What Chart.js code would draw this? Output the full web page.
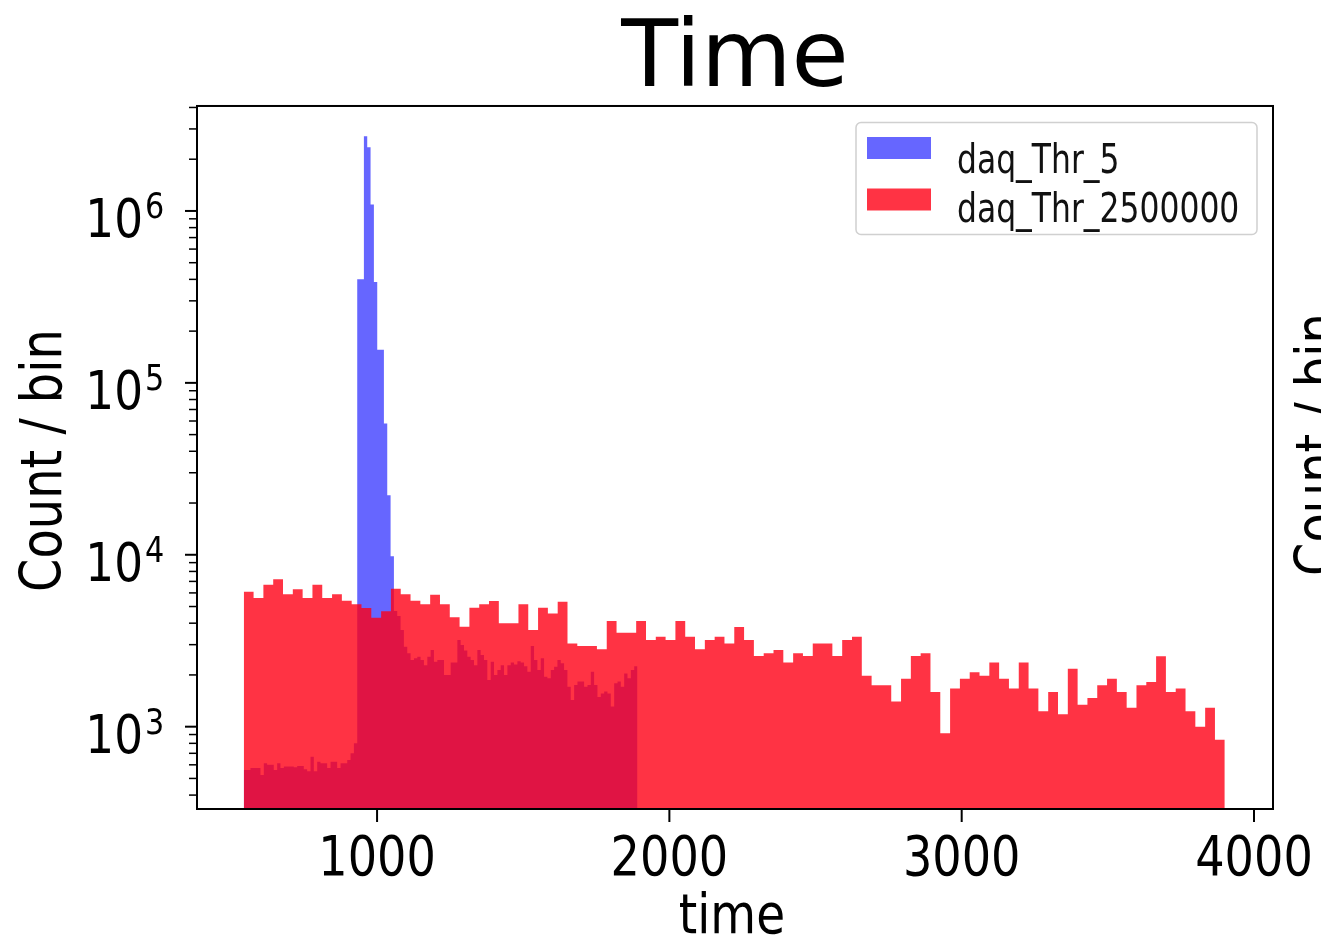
<!DOCTYPE html>
<html>
<head>
<meta charset="utf-8">
<script src="https://cdn.jsdelivr.net/npm/chart.js@4.4.0/dist/chart.umd.min.js"></script>
<style>
  html, body { margin: 0; padding: 0; background: #fff; }
</style>
</head>
<body>
<canvas id="timeChart" width="1321" height="939"></canvas>
<script>
// Histogram data (counts per bin)
const seriesLabels = ['daq_Thr_5', 'daq_Thr_2500000'];
const histStart = 544;          // left edge of the first bin (both series)
const blueBinWidth = 11.415;    // daq_Thr_5 bins
const redBinWidth = 33.56;      // daq_Thr_2500000 bins

const blueCounts = [
    560, 560, 575, 575, 575, 524, 612, 600, 600, 560,
    612, 575, 586, 586, 586, 580, 590, 590, 565, 550,
    669, 550, 625, 612, 612, 575, 625, 625, 575, 612,
    612, 640, 700, 800,
    401000, 401000, 2720000, 2350000, 1090000, 386000, 156000, 156000, 58000, 22200, 9820,
    4710, 4400, 3650, 2920, 2670, 2440, 2500, 2550, 2440, 2280, 2550, 2790,
    2390, 2440, 2440, 2000, 2000, 2360, 2360, 3190, 2990, 2770,
    2550, 2440, 2280, 2790, 2610, 2440, 1870, 2390, 2000, 2140,
    2280, 2000, 2280,
    2360, 2300, 2400, 2360, 2250, 2090, 2950, 2440, 2140, 2500,
    1950, 1910, 2140, 2230, 2440, 2340, 2140, 1710, 1430, 1750,
    1830, 1830, 1710, 1750, 2090, 1750, 1490, 1560, 1600, 1560,
    1310, 1790, 1830, 1710, 2040, 1910, 2140, 2250
];

const redCounts = [
    6100, 5600, 6700, 7200, 5900, 6300, 5600, 6700, 5600, 5900,
    5400, 5150, 4900, 4300, 4700, 6350, 5900, 5400, 5150, 5850,
    5150, 4330, 3810, 4920, 5150, 5380, 3990, 3990, 5150, 3650,
    4920, 4560, 5330, 3050, 2950, 2950, 2820, 4120, 3520, 3520,
    4120, 3190, 3340, 3190, 4120, 3340, 2820, 3190, 3340, 3050,
    3800, 3190, 2580, 2670, 2790, 2360, 2670, 2580, 3050, 3050,
    2580, 3190, 3340, 1980, 1740, 1740, 1400, 1900, 2580, 2670,
    1590, 915, 1670, 1900, 2070, 1980, 2360, 1900, 1670, 2360,
    1670, 1230, 1590, 1180, 2170, 1340, 1470, 1740, 1900, 1590,
    1290, 1740, 1820, 2570, 1590, 1670, 1230, 1000, 1290, 840
];

// Axis ranges and ticks
const xRange = [384, 4065];
const yRange = [332, 4.08e6];
const xTickValues = [1000, 2000, 3000, 4000];
const yTickExponents = [3, 4, 5, 6];

const FONT = "'DejaVu Sans', sans-serif";
const SQUEEZE = 0.84;   // the reference text is narrow for its height

// Draw a horizontally condensed string (optionally rotated)
function narrowText(ctx, text, x, y, size, align, sx, angle) {
    ctx.save();
    ctx.translate(x, y);
    if (angle) ctx.rotate(angle);
    ctx.scale(sx, 1);
    ctx.font = size + 'px ' + FONT;
    ctx.textAlign = align;
    ctx.textBaseline = 'alphabetic';
    ctx.fillText(text, 0, 0);
    ctx.restore();
}

// Turn bin counts into step points (left edges + closing right edge)
function stepPoints(start, width, counts) {
    const pts = counts.map((c, i) => ({ x: start + i * width, y: c }));
    pts.push({ x: start + counts.length * width, y: counts[counts.length - 1] });
    return pts;
}

// Spines, tick marks, tick labels and axis labels
const axisDecor = {
    id: 'axisDecor',
    afterDraw(chart) {
        const { ctx, chartArea: a, scales: { x, y } } = chart;
        ctx.save();
        ctx.strokeStyle = '#000';
        ctx.fillStyle = '#000';

        // y ticks: majors at powers of ten, minors at 2..9
        for (let e = 2; e <= 6; e++) {
            for (let m = 1; m <= 9; m++) {
                const v = m * Math.pow(10, e);
                if (v < yRange[0] || v > yRange[1]) continue;
                const py = y.getPixelForValue(v);
                const major = m === 1;
                ctx.lineWidth = major ? 2 : 1.5;
                ctx.beginPath();
                ctx.moveTo(a.left, py);
                ctx.lineTo(a.left - (major ? 12 : 8), py);
                ctx.stroke();
            }
        }
        // x ticks and labels
        ctx.lineWidth = 2;
        xTickValues.forEach(v => {
            const px = x.getPixelForValue(v);
            ctx.beginPath();
            ctx.moveTo(px, a.bottom);
            ctx.lineTo(px, a.bottom + 13);
            ctx.stroke();
            narrowText(ctx, String(v), px, a.bottom + 66, 55, 'center', SQUEEZE);
        });

        // frame
        ctx.lineWidth = 2;
        ctx.strokeRect(a.left, a.top, a.right - a.left, a.bottom - a.top);

        // y tick labels 10^n
        yTickExponents.forEach(e => {
            const py = y.getPixelForValue(Math.pow(10, e));
            narrowText(ctx, '10', a.left - 54, py + 26, 54, 'right', SQUEEZE);
            narrowText(ctx, String(e), a.left - 52, py + 7, 36, 'left', SQUEEZE);
        });

        // axis labels
        const midX = (a.left + a.right) / 2;
        const midY = (a.top + a.bottom) / 2;
        narrowText(ctx, 'time', midX - 3, 933, 56, 'center', SQUEEZE);
        narrowText(ctx, 'Count / bin', 61, midY + 3, 57, 'center', SQUEEZE, -Math.PI / 2);

        // y label of the neighbouring panel, cut by the figure edge
        narrowText(ctx, 'Count / bin', 1336, midY - 13, 57, 'center', SQUEEZE, -Math.PI / 2);

        ctx.restore();
    }
};

// Boxed legend in the upper right corner
const boxLegend = {
    id: 'boxLegend',
    afterDraw(chart) {
        const { ctx } = chart;
        ctx.save();
        ctx.beginPath();
        ctx.roundRect(856, 122.5, 401, 112, 5);
        ctx.fillStyle = 'rgba(255,255,255,0.8)';
        ctx.fill();
        ctx.strokeStyle = '#d0d0d0';
        ctx.lineWidth = 1.5;
        ctx.stroke();

        chart.data.datasets.forEach((ds, i) => {
            const top = 137 + i * 51.5;
            ctx.fillStyle = ds.backgroundColor;
            ctx.fillRect(867, top, 64, 22);
            ctx.fillStyle = '#111';
            narrowText(ctx, ds.label, 957, 173.3 + i * 48.5, 40, 'left', 0.785);
        });
        ctx.restore();
    }
};

function renderTimeChart() {
    const ctx = document.getElementById('timeChart').getContext('2d');

    const config = {
        type: 'line',
        data: {
            datasets: [{
                label: seriesLabels[0],
                data: stepPoints(histStart, blueBinWidth, blueCounts),
                backgroundColor: 'rgba(0, 0, 255, 0.6)',
                borderColor: 'rgba(0, 0, 0, 0)',
                borderWidth: 0,
                pointRadius: 0,
                stepped: true,
                fill: 'start',
                order: 1
            }, {
                label: seriesLabels[1],
                data: stepPoints(histStart, redBinWidth, redCounts),
                backgroundColor: 'rgba(255, 0, 21, 0.8)',
                borderColor: 'rgba(0, 0, 0, 0)',
                borderWidth: 0,
                pointRadius: 0,
                stepped: true,
                fill: 'start',
                order: 0
            }]
        },
        options: {
            responsive: false,
            animation: false,
            devicePixelRatio: 1,
            layout: {
                padding: { left: 0, right: 48, top: 0, bottom: 0 }
            },
            plugins: {
                legend: { display: false },
                tooltip: { enabled: false },
                title: {
                    display: true,
                    text: 'Time',
                    fullSize: false,
                    color: '#000',
                    font: { family: FONT, size: 93, weight: 'normal', lineHeight: 0.946 },
                    padding: { top: 18, bottom: 0 }
                }
            },
            scales: {
                x: {
                    type: 'linear',
                    min: xRange[0],
                    max: xRange[1],
                    afterBuildTicks: scale => {
                        scale.ticks = xTickValues.map(v => ({ value: v }));
                    },
                    afterFit: scale => {
                        scale.height = 130;
                        scale.paddingLeft = 0;
                        scale.paddingRight = 0;
                    },
                    grid: { display: false },
                    border: { display: false },
                    ticks: { display: false }
                },
                y: {
                    type: 'logarithmic',
                    min: yRange[0],
                    max: yRange[1],
                    afterFit: scale => { scale.width = 197; },
                    grid: { display: false },
                    border: { display: false },
                    ticks: { display: false }
                }
            }
        },
        plugins: [axisDecor, boxLegend]
    };

    new Chart(ctx, config);
}

document.addEventListener('DOMContentLoaded', function() {
    renderTimeChart();
});
</script>
</body>
</html>
